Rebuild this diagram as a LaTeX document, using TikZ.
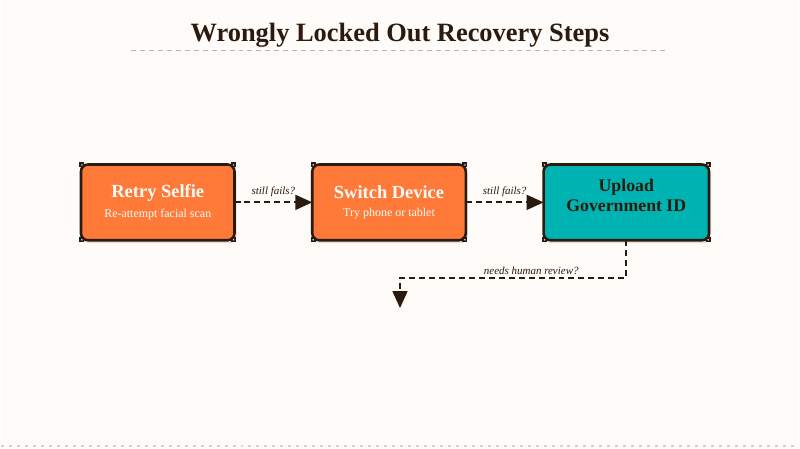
\documentclass[tikz,border=0pt]{standalone}
\usepackage{fontspec}
\setmainfont{Liberation Serif}
\usetikzlibrary{positioning,shadows,arrows.meta,calc}
\definecolor{bgcream}{HTML}{FFFBF8}
\definecolor{edgebrown}{HTML}{2B1A0E}
\definecolor{steporange}{HTML}{FF7A38}
\definecolor{stepteal}{HTML}{00B3B3}
\definecolor{rulegray}{HTML}{BDB6B0}
\tikzset{
  stepbox/.style={draw=edgebrown, line width=2.6pt, rounded corners=7pt, outer sep=0pt,
    minimum width=154pt, minimum height=76pt, align=center,
    drop shadow={opacity=0.22, shadow xshift=2pt, shadow yshift=-3pt}},
  flowarrow/.style={edgebrown, line width=1.8pt, dash pattern=on 6pt off 4pt,
    -{Triangle[length=17pt,width=15pt]}},
  edgelabel/.style={font=\itshape\fontsize{11}{13}\selectfont, text=edgebrown, inner sep=2pt}
}
\newcommand{\steptext}[2]{{\bfseries\fontsize{18.5}{20}\selectfont #1}\\[6pt]{\fontsize{12}{14}\selectfont #2}}
\begin{document}
\begin{tikzpicture}[x=1pt,y=-1pt]
    \fill[bgcream] (0,0) rectangle (800,450);
    % title and rules
    \node[text=edgebrown, font=\bfseries\fontsize{26.5}{30}\selectfont] (title) at (400,35.5) {Wrongly Locked Out Recovery Steps};
    \draw[rulegray, line width=1.2pt, dash pattern=on 5pt off 4pt] (130,51) -- (668,51);
    \draw[rulegray!60, line width=2.5pt, dash pattern=on 3pt off 5pt] (0,447.5) -- (800,447.5);
    % steps
    \node[stepbox, fill=steporange, text=bgcream] (selfie) at (157,203) {\steptext{Retry Selfie}{Re-attempt facial scan}};
    \node[stepbox, fill=steporange, text=bgcream] (device) at (389,203) {\steptext{Switch Device}{Try phone or tablet}};
    \node[stepbox, fill=stepteal, text=edgebrown, minimum width=166pt, font=\bfseries\fontsize{17.8}{20}\selectfont] (upload) at (627,203) {Upload\\Government ID\\[-6pt]};
    \foreach \n in {selfie,device,upload}
        \foreach \c in {north west,north east,south west,south east} {
            \fill[edgebrown] ($(\n.\c)!1pt!(\n.center)$) +(-2.5,-2.5) rectangle +(2.5,2.5);
            \fill[white] ($(\n.\c)!1pt!(\n.center)$) circle (0.8);
        }
    % connectors
    \coordinate (review) at (400,309);
    \draw[flowarrow] (selfie) -- node[edgelabel, above=3pt] {still fails?} (device);
    \draw[flowarrow] (device) -- node[edgelabel, above=3pt] {still fails?} (upload);
    \draw[flowarrow] (upload.south) |- node[edgelabel, pos=0.71, above=1pt] {needs human review?} (review |- 0,279) -- (review);
\end{tikzpicture}
\end{document}
